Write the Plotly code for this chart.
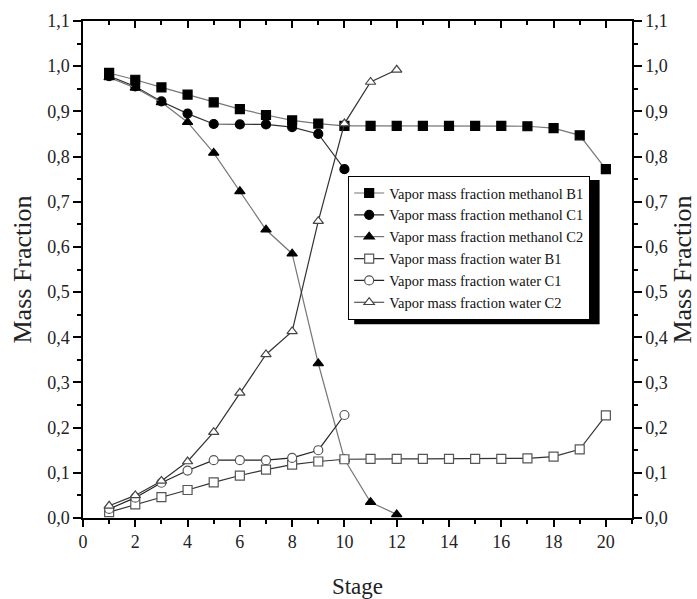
import plotly.graph_objects as go

# Stage numbers per column
stages_b1 = list(range(1, 21))
stages_c1 = list(range(1, 11))
stages_c2 = list(range(1, 13))

# Vapor mass fraction of methanol
methanol_b1 = [0.985, 0.970, 0.953, 0.937, 0.920, 0.905, 0.892, 0.880, 0.873, 0.868,
               0.868, 0.868, 0.868, 0.868, 0.868, 0.868, 0.867, 0.863, 0.847, 0.772]
methanol_c1 = [0.978, 0.955, 0.922, 0.895, 0.872, 0.871, 0.871, 0.865, 0.850, 0.772]
methanol_c2 = [0.975, 0.952, 0.920, 0.876, 0.808, 0.723, 0.638, 0.585, 0.342, 0.130,
               0.035, 0.008]

# Vapor mass fraction of water
water_b1 = [0.013, 0.030, 0.046, 0.062, 0.079, 0.094, 0.107, 0.118, 0.125, 0.130,
            0.131, 0.131, 0.131, 0.131, 0.131, 0.131, 0.132, 0.136, 0.152, 0.227]
water_c1 = [0.020, 0.045, 0.078, 0.105, 0.128, 0.128, 0.128, 0.133, 0.150, 0.228]
water_c2 = [0.027, 0.050, 0.082, 0.125, 0.190, 0.277, 0.362, 0.413, 0.657, 0.873,
            0.965, 0.992]

x_tick_vals = list(range(0, 21, 2))
y_tick_vals = [i / 10 for i in range(0, 12)]

SERIF = "Liberation Serif"

series = [
    ("Vapor mass fraction methanol B1", stages_b1, methanol_b1, "square", "black", "black", "#777777"),
    ("Vapor mass fraction methanol C1", stages_c1, methanol_c1, "circle", "black", "black", "#333333"),
    ("Vapor mass fraction methanol C2", stages_c2, methanol_c2, "triangle-up", "black", "black", "#777777"),
    ("Vapor mass fraction water B1", stages_b1, water_b1, "square", "white", "#555555", "#333333"),
    ("Vapor mass fraction water C1", stages_c1, water_c1, "circle", "white", "#555555", "#222222"),
    ("Vapor mass fraction water C2", stages_c2, water_c2, "triangle-up", "white", "#444444", "#333333"),
]

fig = go.Figure()
for name, xs, ys, sym, fill, edge, line_col in series:
    fig.add_trace(go.Scatter(
        x=xs, y=ys, name=name, mode="lines+markers",
        line=dict(color=line_col, width=1.2),
        marker=dict(symbol=sym, size=9, color=fill, line=dict(color=edge, width=1.2)),
    ))

# Empty trace that anchors the right-hand and top axes
fig.add_trace(go.Scatter(x=[], y=[], xaxis="x2", yaxis="y2",
                         showlegend=False, hoverinfo="skip"))

axis_common = dict(showline=True, linecolor="black", linewidth=1.5,
                   showgrid=False, zeroline=False, automargin=False,
                   tickcolor="black", tickwidth=1.5,
                   tickfont=dict(family=SERIF, size=18, color="#222222"))

minor_out = dict(ticks="outside", ticklen=4, tickcolor="black", tickwidth=1.5)

fig.update_layout(
    width=697, height=599,
    margin=dict(l=83, r=65, t=21, b=81),
    paper_bgcolor="white", plot_bgcolor="white",
    separators=",.",
    font=dict(family=SERIF, color="#222222"),
    xaxis=dict(range=[0, 21], tickvals=x_tick_vals, ticks="outside", ticklen=7,
               ticklabelstandoff=0,
               minor=dict(dtick=1, **minor_out),
               title=dict(text="Stage", font=dict(family=SERIF, size=23), standoff=28),
               **axis_common),
    yaxis=dict(range=[0, 1.1], tickvals=y_tick_vals, tickformat=".1f",
               ticks="outside", ticklen=8,
               minor=dict(dtick=0.05, **minor_out),
               title=dict(text="Mass Fraction", font=dict(family=SERIF, size=26), standoff=8),
               **axis_common),
    xaxis2=dict(range=[0, 21], overlaying="x", side="top", anchor="y2",
                tickvals=x_tick_vals, ticks="inside", ticklen=7, showticklabels=False,
                minor=dict(dtick=1, ticks="inside", ticklen=4, tickcolor="black", tickwidth=1.5),
                **axis_common),
    yaxis2=dict(range=[0, 1.1], overlaying="y", side="right", anchor="x2",
                tickvals=y_tick_vals, tickformat=".1f", ticks="outside", ticklen=8,
                minor=dict(dtick=0.05, **minor_out),
                title=dict(text="Mass Fraction", font=dict(family=SERIF, size=26), standoff=4),
                **axis_common),
    legend=dict(x=0.483, y=0.688, xanchor="left", yanchor="top",
                bgcolor="white", bordercolor="black", borderwidth=1,
                font=dict(family=SERIF, size=14.5, color="#111111"),
                tracegroupgap=0, itemwidth=30),
    showlegend=True,
)

# Drop shadow behind the legend box
fig.add_shape(type="rect", xref="paper", yref="paper",
              x0=0.494, x1=0.941, y0=0.390, y1=0.680,
              fillcolor="black", line=dict(width=0), layer="above")

fig.write_html("out.html")
